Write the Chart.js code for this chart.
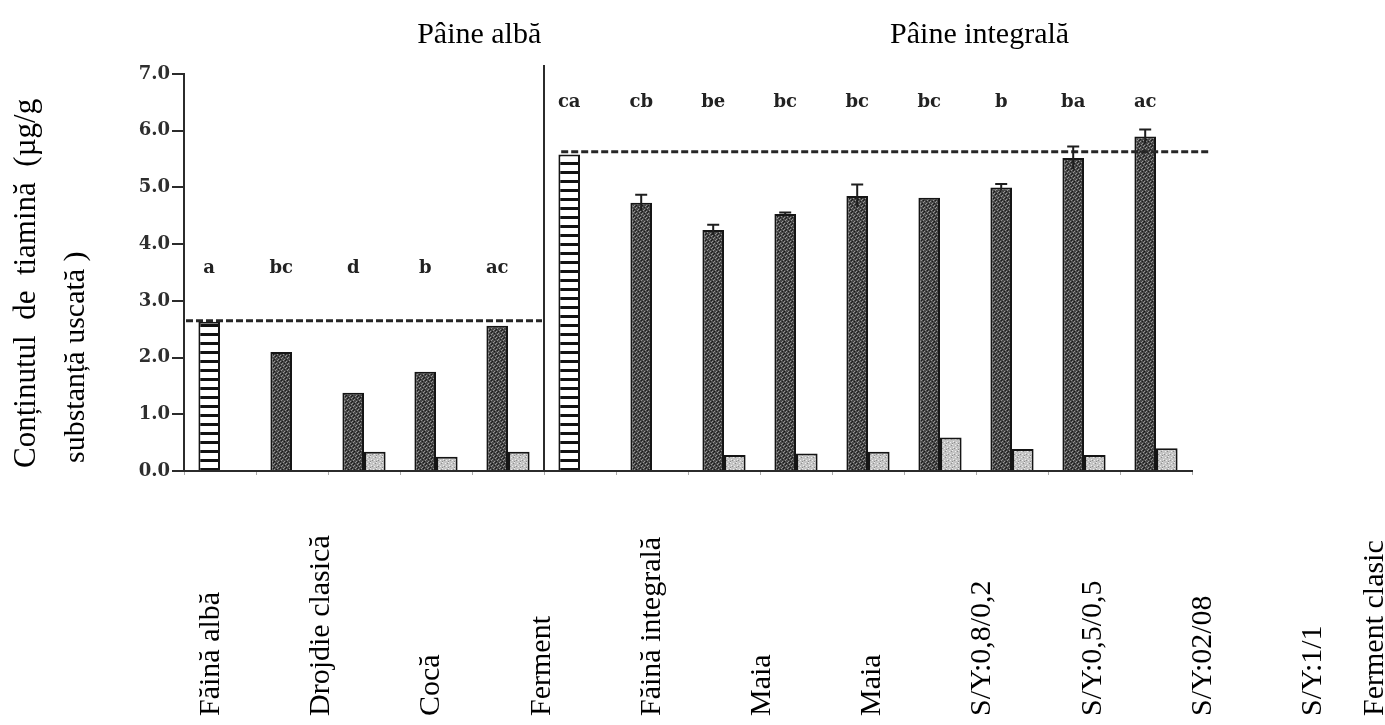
<!DOCTYPE html>
<html>
<head>
<meta charset="utf-8">
<script src="https://cdn.jsdelivr.net/npm/chart.js@4.4.1/dist/chart.umd.min.js"></script>
<style>
    html, body { margin: 0; padding: 0; background: #fff; }
    #wrap { width: 1385px; height: 725px; position: relative; }
</style>
</head>
<body>
<div id="wrap"><canvas id="thiamineChart" width="1385" height="725"></canvas></div>
<script>
// --- date ---
const breadGroups = ['Pâine albă', 'Pâine integrală'];
const bottomLabels = ['Făină albă', 'Drojdie clasică', 'Cocă', 'Ferment', 'Făină integrală', 'Maia', 'Maia',
    'S/Y:0,8/0,2', 'S/Y:0,5/0,5', 'S/Y:02/08', 'S/Y:1/1', 'Ferment clasic'];
const barKeys = ['A1', 'A2', 'A3', 'A4', 'A5', 'I1', 'I2', 'I3', 'I4', 'I5', 'I6', 'I7', 'I8', 'I9'];
const mainValues = [2.63, 2.10, 1.38, 1.75, 2.56, 5.58, 4.73, 4.25, 4.53, 4.85, 4.82, 5.00, 5.52, 5.90];
const mainErrors = [0, 0, 0, 0, 0, 0, 0.14, 0.09, 0.03, 0.20, 0, 0.06, 0.20, 0.12];
const lightValues = [null, null, 0.34, 0.25, 0.34, null, null, 0.28, 0.31, 0.34, 0.59, 0.39, 0.28, 0.40];
const letters = ['a', 'bc', 'd', 'b', 'ac', 'ca', 'cb', 'be', 'bc', 'bc', 'bc', 'b', 'ba', 'ac'];
const flourBars = [0, 5];          // barele hasurate (faina)
const flourLevels = [2.65, 5.63];  // liniile punctate
const splitIndex = 5;              // prima bara "Pâine integrală"
const yTitleLines = ['Conținutul  de  tiamină  (µg/g', 'substanță uscată )'];

// --- texturi (scanare) ---
function makeTile(w, h, base, light, dark, lightPts, darkPts) {
    const c = document.createElement('canvas');
    c.width = w; c.height = h;
    const g = c.getContext('2d');
    g.fillStyle = base; g.fillRect(0, 0, w, h);
    g.fillStyle = light; lightPts.forEach(p => g.fillRect(p[0], p[1], 1, 1));
    g.fillStyle = dark; darkPts.forEach(p => g.fillRect(p[0], p[1], 1, 1));
    return g.createPattern(c, 'repeat');
}
const pctx = document.getElementById('thiamineChart').getContext('2d');
const darkPattern = makeTile(6, 6, '#474747', '#959595', '#1a1a1a',
    [[1, 0], [4, 1], [3, 2], [0, 3], [5, 4], [2, 5]], [[3, 0], [0, 1], [5, 2], [2, 3], [4, 5]]);
const lightPattern = makeTile(6, 6, '#c4c4c4', '#eeeeee', '#8e8e8e',
    [[1, 1], [4, 0], [2, 4], [5, 3]], [[3, 1], [0, 4], [4, 5]]);
const hatchPattern = (function() {
    const c = document.createElement('canvas');
    c.width = 8; c.height = 9;
    const g = c.getContext('2d');
    g.fillStyle = '#fff'; g.fillRect(0, 0, 8, 9);
    g.fillStyle = '#111'; g.fillRect(0, 0, 8, 3);
    return g.createPattern(c, 'repeat');
})();

const mainColors = mainValues.map((v, i) => flourBars.includes(i) ? hatchPattern : darkPattern);

const serif = '"Liberation Serif", "Times New Roman", serif';

// --- adnotari: separator, linii punctate, erori, litere, texte ---
const annotations = {
    id: 'annotations',
    afterDatasetsDraw(chart) {
        const { ctx, chartArea, scales: { x, y } } = chart;
        const bars = chart.getDatasetMeta(0).data;
        const sepX = (x.getPixelForValue(splitIndex - 1) + x.getPixelForValue(splitIndex)) / 2;
        ctx.save();

        // separator vertical
        ctx.strokeStyle = '#2b2b2b';
        ctx.lineWidth = 2;
        ctx.beginPath();
        ctx.moveTo(sepX, chartArea.top - 9);
        ctx.lineTo(sepX, chartArea.bottom);
        ctx.stroke();

        // linii punctate (nivelul fainii)
        ctx.setLineDash([7, 3]);
        ctx.lineWidth = 3;
        ctx.strokeStyle = '#262626';
        let yy = y.getPixelForValue(flourLevels[0]);
        ctx.beginPath();
        ctx.moveTo(chartArea.left + 2, yy);
        ctx.lineTo(sepX - 2, yy);
        ctx.stroke();
        yy = y.getPixelForValue(flourLevels[1]);
        ctx.beginPath();
        ctx.moveTo(bars[splitIndex].x - 8, yy);
        ctx.lineTo(chartArea.right + 18, yy);
        ctx.stroke();
        ctx.setLineDash([]);

        // bare de eroare
        ctx.lineWidth = 2;
        ctx.strokeStyle = '#1e1e1e';
        mainErrors.forEach((e, i) => {
            if (!e) return;
            const bx = bars[i].x;
            const top = y.getPixelForValue(mainValues[i] + e);
            const bot = y.getPixelForValue(mainValues[i] - e);
            ctx.beginPath();
            ctx.moveTo(bx, bot);
            ctx.lineTo(bx, top);
            ctx.moveTo(bx - 6, top);
            ctx.lineTo(bx + 6, top);
            ctx.stroke();
        });

        // litere de semnificatie
        ctx.fillStyle = '#222';
        ctx.font = 'bold 18px "DejaVu Serif", serif';
        ctx.textAlign = 'center';
        ctx.textBaseline = 'alphabetic';
        letters.forEach((t, i) => {
            const level = i < splitIndex ? 3.49 : 6.42;
            ctx.fillText(t, bars[i].x, y.getPixelForValue(level));
        });
        ctx.restore();
    },
    afterDraw(chart) {
        const { ctx, scales: { x } } = chart;
        ctx.save();
        ctx.fillStyle = '#000';
        ctx.font = '30px ' + serif;
        ctx.textBaseline = 'alphabetic';

        // titlurile grupelor
        ctx.textAlign = 'center';
        ctx.fillText(breadGroups[0], x.getPixelForValue(3.6), 43);
        ctx.fillText(breadGroups[1], x.getPixelForValue(10.55), 43);

        // etichete verticale jos (ultima taiata de marginea din dreapta)
        ctx.textAlign = 'left';
        bottomLabels.forEach((t, i) => {
            const cx = Math.min(x.getPixelForValue(-0.153 + i * 1.5306), chart.width - 12);
            ctx.save();
            ctx.translate(cx + 10, 716);
            ctx.rotate(-Math.PI / 2);
            ctx.fillText(t, 0, 0);
            ctx.restore();
        });

        // titlul axei Y (doua randuri)
        [[35, 468], [84, 463]].forEach((p, i) => {
            ctx.save();
            ctx.translate(p[0], p[1]);
            ctx.rotate(-Math.PI / 2);
            ctx.font = (i === 0 ? '31px ' : '30px ') + serif;
            ctx.fillText(yTitleLines[i], 0, 0);
            ctx.restore();
        });
        ctx.restore();
    }
};

new Chart(pctx, {
    type: 'bar',
    data: {
        labels: barKeys,
        datasets: [{
            data: mainValues,
            backgroundColor: mainColors,
            borderColor: '#151515',
            borderWidth: 2,
            categoryPercentage: 0.6,
            barPercentage: 1.0
        }, {
            data: lightValues,
            backgroundColor: lightPattern,
            borderColor: '#151515',
            borderWidth: 2,
            categoryPercentage: 0.6,
            barPercentage: 1.0
        }]
    },
    options: {
        responsive: false,
        animation: false,
        devicePixelRatio: 1,
        layout: { padding: { left: 124, right: 193, top: 74, bottom: 244 } },
        plugins: {
            legend: { display: false },
            tooltip: { enabled: false }
        },
        scales: {
            x: {
                offset: true,
                ticks: { display: false },
                grid: { offset: true, drawOnChartArea: false, tickLength: 4, color: '#aaa', lineWidth: 1 },
                border: { color: '#2b2b2b', width: 2 },
                afterFit: s => { s.height = 10; }
            },
            y: {
                min: 0,
                max: 7,
                ticks: {
                    stepSize: 1,
                    padding: 2,
                    color: '#2e2e2e',
                    font: { family: '"DejaVu Serif", serif', size: 18, weight: 'bold' },
                    callback: v => v.toFixed(1)
                },
                grid: { drawOnChartArea: false, tickLength: 12, color: '#2b2b2b', lineWidth: 2 },
                border: { color: '#2b2b2b', width: 2 },
                afterFit: s => { s.width = 60; }
            }
        }
    },
    plugins: [annotations]
});
</script>
</body>
</html>
